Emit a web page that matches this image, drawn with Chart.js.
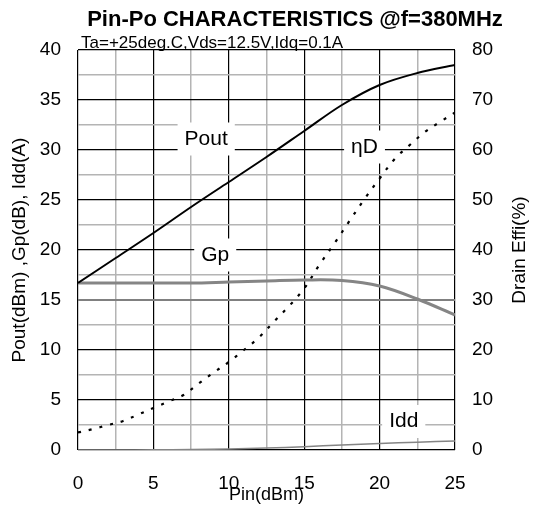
<!DOCTYPE html>
<html>
<head>
<meta charset="utf-8">
<script src="https://cdn.jsdelivr.net/npm/chart.js@4/dist/chart.umd.min.js"></script>
<style>
  html, body { margin: 0; padding: 0; background: #fff; }
  #wrap { width: 534px; height: 514px; }
</style>
</head>
<body>
<div id="wrap"><canvas id="chart"></canvas></div>
<script>
// Pin (dBm) sample points
var pin = [0, 2.5, 5, 7.5, 10, 12.5, 15, 17.5, 20, 22.5, 25];
var pout = [16.7, 19.2, 21.7, 24.3, 26.8, 29.3, 31.9, 34.5, 36.5, 37.7, 38.5];
var gp = [16.7, 16.7, 16.7, 16.7, 16.8, 16.9, 17.0, 16.95, 16.4, 15.1, 13.5];
var idd = [0, 0, 0.02, 0.05, 0.1, 0.2, 0.33, 0.5, 0.65, 0.78, 0.9];

// drain efficiency read at 1 dBm steps
var pinEff = [0, 1, 2, 3, 4, 5, 6, 7, 8, 9, 10, 11, 12, 13, 14, 15, 16, 17, 18, 19, 20, 21, 22, 23, 24, 25];
var effD = [3.5, 4.2, 5.0, 5.8, 7.1, 8.4, 9.7, 11.0, 13.3, 15.5, 17.6, 20.0, 22.5, 25.7, 28.8, 32.3, 37.0, 41.3, 45.8, 50.2, 54.3, 58.2, 61.0, 63.6, 65.6, 67.5];

// curve labels (text, Pin, left-axis value)
var labelText = ['Pout', '\u03b7D', 'Gp', 'Idd'];
var labelX = [8.5, 19.0, 9.1, 21.6];
var labelY = [31.1, 30.3, 19.5, 2.85];

var fontName = '"Liberation Sans", Arial, sans-serif';

function pts(xs, ys) {
    return xs.map(function (x, i) { return { x: x, y: ys[i] }; });
}

// white-boxed curve labels, drawn over the grid but under the curves
var curveLabels = {
    id: 'curveLabels',
    beforeDatasetsDraw: function (chart) {
        var ctx = chart.ctx;
        var sx = chart.scales.x, sy = chart.scales.y;
        ctx.save();
        ctx.font = '21px ' + fontName;
        ctx.textAlign = 'center';
        ctx.textBaseline = 'middle';
        for (var i = 0; i < labelText.length; i++) {
            var px = sx.getPixelForValue(labelX[i]);
            var py = sy.getPixelForValue(labelY[i]);
            var w = ctx.measureText(labelText[i]).width + 14;
            var h = 33;
            ctx.fillStyle = '#fff';
            ctx.fillRect(px - w / 2, py - h / 2, w, h);
            ctx.fillStyle = '#000';
            ctx.fillText(labelText[i], px, py);
        }
        ctx.restore();
    },
    afterDraw: function (chart) {
        var ctx = chart.ctx;
        var area = chart.chartArea;
        ctx.save();
        ctx.fillStyle = '#000';
        ctx.textBaseline = 'alphabetic';
        ctx.textAlign = 'center';
        ctx.font = 'bold 22px ' + fontName;
        ctx.fillText('Pin-Po CHARACTERISTICS @f=380MHz', 295, 26);
        ctx.textAlign = 'left';
        ctx.font = '17px ' + fontName;
        ctx.fillText('Ta=+25deg.C,Vds=12.5V,Idq=0.1A', 81, 48);
        // right axis title reads bottom-to-top
        ctx.translate(520, (area.top + area.bottom) / 2);
        ctx.rotate(-Math.PI / 2);
        ctx.textAlign = 'center';
        ctx.textBaseline = 'middle';
        ctx.font = '19px ' + fontName;
        ctx.fillText('Drain Effi(%)', 0, 0);
        ctx.restore();
    }
};

function gridColor(c) {
    var v = c.tick.value;
    if (c.scale.axis === 'y' && v === 15) return '#808080';
    return (v % 5 === 0) ? '#000' : '#b4b4b4';
}
function gridWidth(c) {
    var v = c.tick.value;
    if (c.scale.axis === 'y' && v === 15) return 2;
    return (v % 5 === 0) ? 1.2 : 1.5;
}

new Chart(document.getElementById('chart'), {
    type: 'line',
    data: {
        datasets: [
            { label: 'Pout', data: pts(pin, pout), borderColor: '#000', borderWidth: 2, yAxisID: 'y' },
            { label: 'Gp', data: pts(pin, gp), borderColor: '#858585', borderWidth: 3, yAxisID: 'y' },
            { label: 'Idd', data: pts(pin, idd), borderColor: '#858585', borderWidth: 1.5, yAxisID: 'y' },
            { label: 'Drain Eff', data: pts(pinEff, effD), borderColor: '#000', borderWidth: 2.2,
              borderDash: [3, 8], yAxisID: 'y2' }
        ]
    },
    options: {
        responsive: true,
        maintainAspectRatio: false,
        animation: false,
        layout: { padding: { top: 50, left: 0, right: 0, bottom: 0 } },
        elements: {
            point: { radius: 0 },
            line: { tension: 0.35, fill: false }
        },
        plugins: {
            legend: { display: false },
            tooltip: { enabled: false }
        },
        scales: {
            x: {
                type: 'linear', min: 0, max: 25,
                afterFit: function (s) { s.height = 64; },
                ticks: {
                    stepSize: 2.5, padding: 22, color: '#000', maxRotation: 0, autoSkip: false,
                    font: { family: fontName, size: 19 },
                    callback: function (v) { return v % 5 === 0 ? v : ''; }
                },
                grid: { color: gridColor, lineWidth: gridWidth, drawTicks: false },
                border: { display: false },
                title: { display: true, text: 'Pin(dBm)', color: '#000', padding: { top: -6, bottom: 8 },
                         font: { family: fontName, size: 18 } }
            },
            y: {
                position: 'left', min: 0, max: 40,
                afterFit: function (s) { s.width = 78; },
                ticks: {
                    stepSize: 2.5, padding: 17, color: '#000', autoSkip: false,
                    font: { family: fontName, size: 19 },
                    callback: function (v) { return v % 5 === 0 ? v : ''; }
                },
                grid: { color: gridColor, lineWidth: gridWidth, drawTicks: false },
                border: { display: false },
                title: { display: true, text: 'Pout(dBm) ,Gp(dB), Idd(A)', color: '#000', padding: { top: 8, bottom: 0 },
                         font: { family: fontName, size: 19 } }
            },
            y2: {
                position: 'right', min: 0, max: 80,
                afterFit: function (s) { s.width = 79; },
                ticks: {
                    stepSize: 10, padding: 17, color: '#000',
                    font: { family: fontName, size: 19 }
                },
                grid: { display: false, drawTicks: false },
                border: { display: false }
            }
        }
    },
    plugins: [curveLabels]
});
</script>
</body>
</html>
